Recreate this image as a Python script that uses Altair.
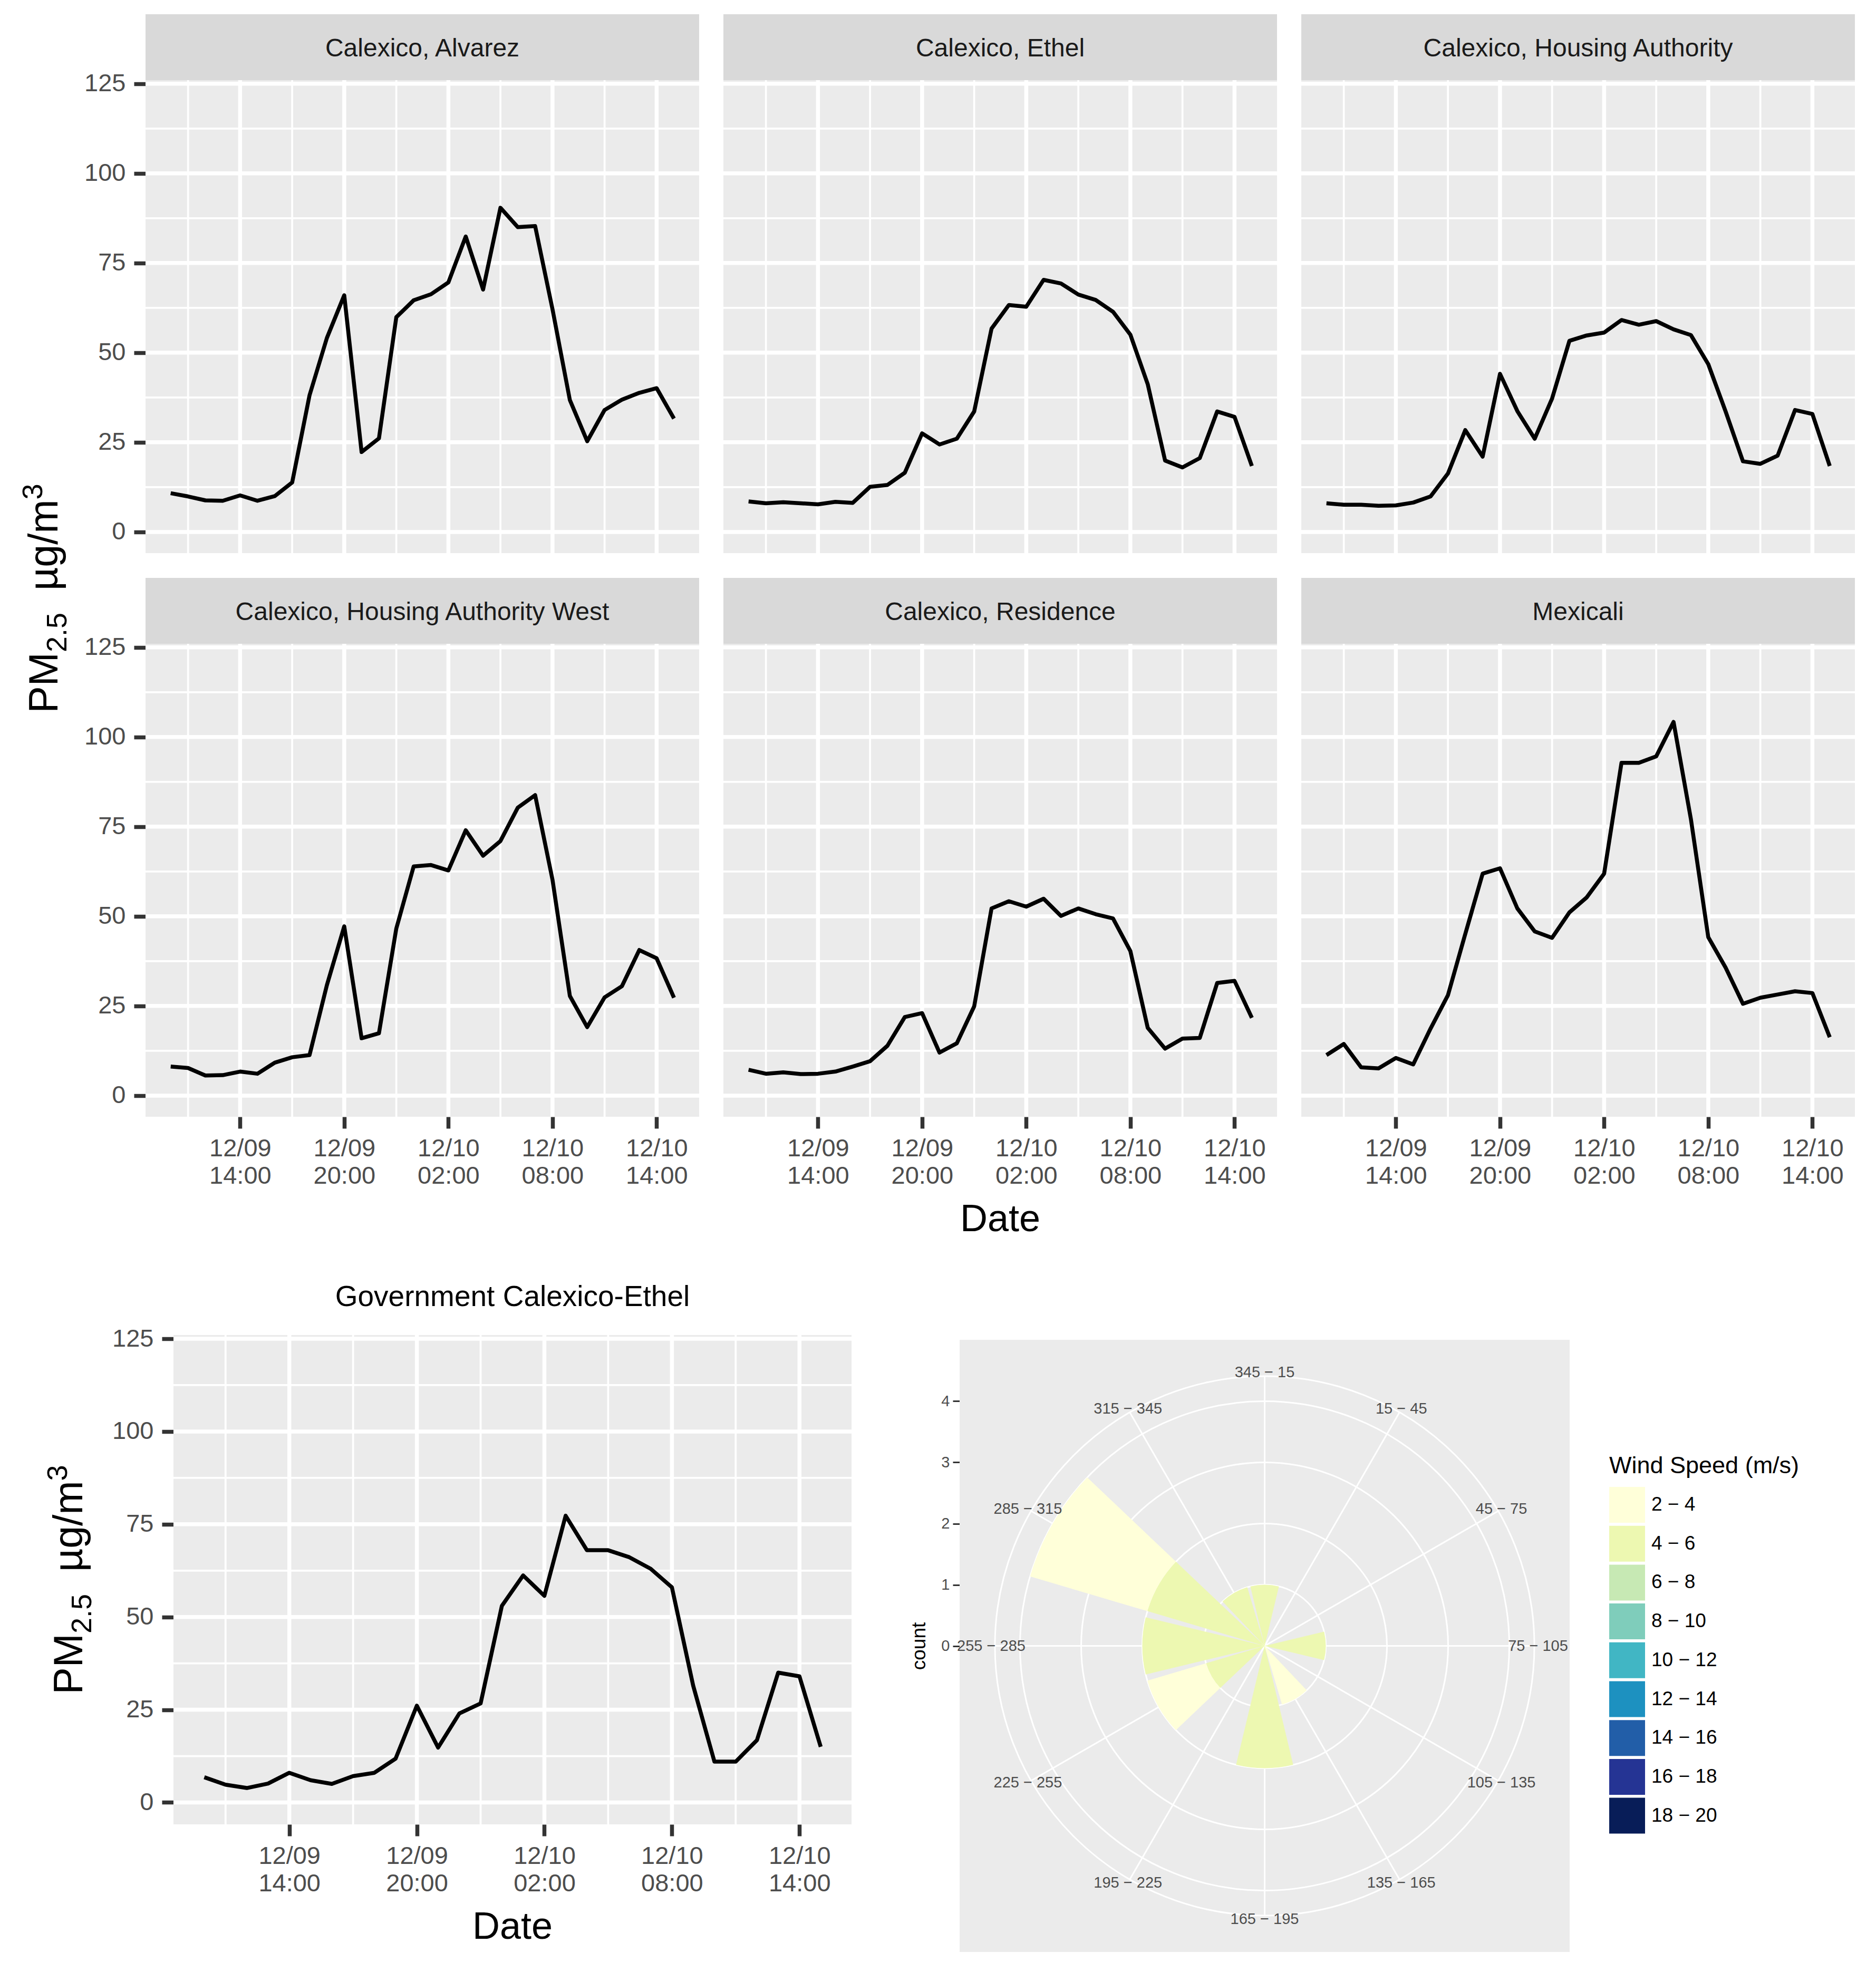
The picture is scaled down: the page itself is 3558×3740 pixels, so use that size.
import altair as alt
import pandas as pd

FONT = "Liberation Sans"

# ---------------- time-series data (hourly, 12/09 10:00 -> 12/10 15:00) ----------------
hours = pd.date_range("2014-12-09 10:00", periods=30, freq="h")

site_names = ["Calexico, Alvarez", "Calexico, Ethel", "Calexico, Housing Authority",
              "Calexico, Housing Authority West", "Calexico, Residence", "Mexicali"]

alvarez = [10.8, 9.9, 8.8, 8.7, 10.2, 8.7, 10.0, 13.8, 38.1, 54.1, 66.0, 22.3, 26.1, 59.9, 64.6,
           66.3, 69.6, 82.4, 67.6, 90.4, 85.0, 85.3, 62.1, 36.8, 25.3, 34.0, 36.9, 38.8, 40.1, 31.6]
ethel = [8.5, 8.0, 8.3, 8.0, 7.7, 8.4, 8.1, 12.6, 13.1, 16.5, 27.5, 24.4, 26.0, 33.6, 56.7,
         63.3, 62.8, 70.3, 69.3, 66.2, 64.7, 61.4, 55.0, 41.2, 19.9, 18.0, 20.6, 33.6, 32.1, 18.4]
housing = [8.0, 7.6, 7.6, 7.3, 7.4, 8.2, 9.9, 16.3, 28.4, 21.0, 44.1, 33.7, 26.0, 37.2, 53.3,
           54.8, 55.6, 59.1, 57.8, 58.8, 56.5, 54.9, 46.8, 33.6, 19.7, 19.0, 21.3, 34.0, 32.9, 18.4]
housing_west = [8.1, 7.7, 5.6, 5.7, 6.7, 6.1, 9.2, 10.7, 11.3, 30.8, 47.2, 16.0, 17.4, 46.6, 63.9,
                64.3, 62.8, 74.0, 66.9, 71.0, 80.3, 83.8, 60.2, 27.8, 19.1, 27.4, 30.5, 40.6, 38.3, 27.3]
residence = [7.2, 6.1, 6.5, 6.0, 6.1, 6.7, 8.1, 9.6, 13.9, 21.9, 23.0, 12.0, 14.6, 24.9, 52.2,
             54.2, 52.7, 54.9, 50.1, 52.2, 50.6, 49.4, 40.3, 18.9, 13.1, 15.9, 16.1, 31.4, 32.0, 21.7]
mexicali = [11.3, 14.4, 7.9, 7.6, 10.5, 8.7, 18.7, 28.0, 45.1, 61.9, 63.4, 52.2, 45.8, 44.0, 51.1,
            55.3, 61.9, 92.8, 92.8, 94.6, 104.2, 77.1, 44.2, 35.7, 25.6, 27.3, 28.2, 29.1, 28.6, 16.3]
government = [6.8, 4.8, 3.9, 5.1, 8.0, 6.0, 5.0, 7.1, 8.0, 11.8, 26.1, 14.8, 24.0, 26.7, 53.0,
              61.2, 55.7, 77.3, 68.0, 68.0, 66.1, 63.0, 58.0, 31.5, 11.0, 11.0, 16.8, 35.0, 34.0, 15.0]

site_values = [alvarez, ethel, housing, housing_west, residence, mexicali]

x_tick_times = ["2014-12-09 14:00", "2014-12-09 20:00", "2014-12-10 02:00",
                "2014-12-10 08:00", "2014-12-10 14:00"]
x_minor_times = ["2014-12-09 11:00", "2014-12-09 17:00", "2014-12-09 23:00",
                 "2014-12-10 05:00", "2014-12-10 11:00"]
x_domain_times = ["2014-12-09 08:33", "2014-12-10 16:27"]
y_ticks = [0, 25, 50, 75, 100, 125]
y_minor = [12.5, 37.5, 62.5, 87.5, 112.5]
y_domain = [-5.9, 126]

# y-axis title "PM_2.5  µg/m^3" in pieces: (text, font size, shift across the baseline)
y_title_parts = [("PM", 77, 0), ("2.5", 54, 17), ("\u00b5g/m", 77, 0), ("3", 54, -29)]
y_title_widths = [115.5, 75.0, 172.7, 30.0]
y_title_gaps = [0, 0, 42, 0]

# ---------------- wind rose data ----------------
dir_labels = ["345 \u2212 15", "15 \u2212 45", "45 \u2212 75", "75 \u2212 105", "105 \u2212 135",
              "135 \u2212 165", "165 \u2212 195", "195 \u2212 225", "225 \u2212 255",
              "255 \u2212 285", "285 \u2212 315", "315 \u2212 345"]
dir_centers = [0, 30, 60, 90, 120, 150, 180, 210, 240, 270, 300, 330]
speed_bins = ["2 \u2212 4", "4 \u2212 6", "6 \u2212 8", "8 \u2212 10", "10 \u2212 12",
              "12 \u2212 14", "14 \u2212 16", "16 \u2212 18", "18 \u2212 20"]
speed_colors = ["#FFFFD9", "#EDF8B1", "#C7E9B4", "#7FCDBB", "#41B6C4",
                "#1D91C0", "#225EA8", "#253494", "#081D58"]
wind_dir = ["345 \u2212 15", "315 \u2212 345", "285 \u2212 315", "285 \u2212 315", "255 \u2212 285",
            "225 \u2212 255", "225 \u2212 255", "165 \u2212 195", "135 \u2212 165", "75 \u2212 105"]
wind_speed = ["4 \u2212 6", "4 \u2212 6", "4 \u2212 6", "2 \u2212 4", "4 \u2212 6",
              "4 \u2212 6", "2 \u2212 4", "4 \u2212 6", "2 \u2212 4", "4 \u2212 6"]
wind_count = [1, 1, 2, 2, 2, 1, 1, 2, 1, 1]
count_ticks = [0, 1, 2, 3, 4]
ring_counts = [1, 2, 3, 4, 4.41]
label_radius = 4.47
half_bar_deg = 13.5


def dt(s):
    ts = pd.Timestamp(s)
    return alt.DateTime(year=ts.year, month=ts.month, date=ts.day,
                        hours=ts.hour, minutes=ts.minute)


AX_LAB = dict(labelFontSize=47, labelColor="#4D4D4D", tickSize=22, tickWidth=7.5,
              tickColor="#333333", domain=False, grid=False, title=None)


def label_layer(text, x, y, size, baseline="alphabetic", color="#000000"):
    df = pd.DataFrame({"txt": [text]})
    return alt.Chart(df).mark_text(fontSize=size, color=color, align="center",
                                   baseline=baseline).encode(
        x=alt.value(x), y=alt.value(y), text="txt:N")


def rotated_title(x, y):
    """Vertical axis title built from pieces so the sub/superscripts sit lower/higher."""
    total = sum(y_title_widths) + sum(y_title_gaps)
    pos = -total / 2
    out = []
    for (txt, size, shift), w, gap in zip(y_title_parts, y_title_widths, y_title_gaps):
        pos += gap
        df = pd.DataFrame({"txt": [txt]})
        kw = dict(fontSize=size, color="#000000", align="left", baseline="alphabetic",
                  angle=270, dx=pos)
        if shift:
            kw["dy"] = shift
        out.append(alt.Chart(df).mark_text(**kw).encode(
            x=alt.value(x), y=alt.value(y), text="txt:N"))
        pos += w
    return out


def ts_panel(values, pw, ph, show_x, show_y, strip=None, extras=(), ox=0, oy=0, vw=None, vh=None):
    """Panel drawn inside a view of size (vw, vh); the plotting area starts at (ox, oy)."""
    vw = pw if vw is None else vw
    vh = ph if vh is None else vh
    xs = alt.Scale(domain=[dt(s) for s in x_domain_times], range=[ox, ox + pw])
    ys = alt.Scale(domain=y_domain, nice=False, zero=False, range=[oy + ph, oy])

    bg = alt.Chart(pd.DataFrame({"a": [0]})).mark_rect(color="#EBEBEB").encode(
        x=alt.value(ox), x2=alt.value(ox + pw), y=alt.value(oy), y2=alt.value(oy + ph))

    def vrules(times_list, sw):
        return alt.Chart(pd.DataFrame({"t": pd.to_datetime(times_list)})).mark_rule(
            color="white", strokeWidth=sw).encode(
            x=alt.X("t:T", scale=xs), y=alt.value(oy), y2=alt.value(oy + ph))

    def hrules(vals, sw):
        return alt.Chart(pd.DataFrame({"pm": vals})).mark_rule(
            color="white", strokeWidth=sw).encode(
            y=alt.Y("pm:Q", scale=ys), x=alt.value(ox), x2=alt.value(ox + pw))

    if show_x:
        xax = alt.Axis(values=[dt(s) for s in x_tick_times],
                       labelExpr="[timeFormat(datum.value, '%m/%d'), timeFormat(datum.value, '%H:%M')]",
                       labelLineHeight=52, labelBaseline="top", labelPadding=15,
                       labelOverlap=False, labelFlush=False, **AX_LAB)
    else:
        xax = alt.Axis(values=[dt(s) for s in x_tick_times], labels=False, ticks=False,
                       domain=False, grid=False, title=None)
    if show_y:
        ykw = dict(values=y_ticks, labelPadding=16, **AX_LAB)
        if ox:
            ykw["offset"] = -ox
        yax = alt.Axis(**ykw)
    else:
        yax = alt.Axis(values=y_ticks, labels=False, ticks=False, domain=False, grid=False,
                       title=None)

    df = pd.DataFrame({"t": hours, "pm": values})
    # invisible first layer only carries the axis definitions
    axis_holder = alt.Chart(df).mark_line(opacity=0).encode(
        x=alt.X("t:T", scale=xs, axis=xax), y=alt.Y("pm:Q", scale=ys, axis=yax))
    line = alt.Chart(df).mark_line(color="black", strokeWidth=7.5, strokeJoin="round").encode(
        x=alt.X("t:T", scale=xs), y=alt.Y("pm:Q", scale=ys))

    layers = [axis_holder, bg, vrules(x_minor_times, 3.75), hrules(y_minor, 3.75),
              vrules(x_tick_times, 7.5), hrules(y_ticks, 7.5), line]
    if strip is not None:
        sdf = pd.DataFrame({"s": [strip]})
        layers.append(alt.Chart(sdf).mark_rect(color="#D9D9D9").encode(
            x=alt.value(ox), x2=alt.value(ox + pw), y=alt.value(oy - 125), y2=alt.value(oy)))
        layers.append(alt.Chart(sdf).mark_text(fontSize=48, color="#1A1A1A", align="center",
                                               baseline="alphabetic").encode(
            x=alt.value(ox + pw / 2), y=alt.value(oy - 45), text="s:N"))
    layers.extend(extras)
    return alt.layer(*layers).properties(width=vw, height=vh)


W, H = 1050, 897
ROW_GAP = 172
panels = []
for i, (name, vals) in enumerate(zip(site_names, site_values)):
    extras = []
    if i == 0:
        # centred on the two panel rows (strip of the first row excluded)
        extras.extend(rotated_title(-167, (2 * H + ROW_GAP) / 2))
    if i == 4:
        extras.append(label_layer("Date", W / 2, 1114, 72))
    panels.append(ts_panel(vals, W, H, show_x=(i >= 3), show_y=(i % 3 == 0),
                           strip=name, extras=extras))

# bottom-left panel, placed inside a 1050-wide grid cell with an inner offset
GW, GH = 1286, 928
GX0, GY0 = 53, 242
gov = ts_panel(government, GW, GH, True, True, strip=None, ox=GX0, oy=GY0,
               vw=W, vh=GY0 + GH,
               extras=[label_layer("Government Calexico-Ethel", GX0 + GW / 2, GY0 - 55, 55),
                       label_layer("Date", GX0 + GW / 2, GY0 + GH + 217, 72)]
               + rotated_title(GX0 - 173, GY0 + GH / 2))

# ---------------- wind rose (also inside a grid cell with an inner offset) ----------------
RW, RH = 1157, 1161
RX0, RY0 = 448, 251
CX, CY = RX0 + RW / 2, RY0 + RH / 2
PX_PER_COUNT = 116
THETA_SCALE = alt.Scale(type="linear", domain=[0, 360], range=[0, 6.283185307179586], nice=False)
R_SCALE = alt.Scale(type="linear", domain=[0, 4], range=[0, 4 * PX_PER_COUNT], zero=True, nice=False)

wind = pd.DataFrame({"dir": wind_dir, "speed": wind_speed, "count": wind_count})
wind["center"] = wind["dir"].map(dict(zip(dir_labels, dir_centers)))
wind["sorder"] = wind["speed"].map({s: i for i, s in enumerate(speed_bins)})
wind = wind.sort_values(["dir", "sorder"], ascending=[True, False]).reset_index(drop=True)
wind["r1"] = wind.groupby("dir")["count"].cumsum()
wind["r0"] = wind["r1"] - wind["count"]
wind["a0"] = wind["center"] - half_bar_deg
wind["a1"] = wind["center"] + half_bar_deg

ring_df = pd.DataFrame({"r": ring_counts, "a0": 0, "a1": 360})
spoke_df = pd.DataFrame({"ang": dir_centers, "r": ring_counts[-1]})
lab_df = pd.DataFrame({"ang": dir_centers, "lab": dir_labels, "rl": label_radius})
cnt_df = pd.DataFrame({"c": count_ticks})

rose_bg = alt.Chart(pd.DataFrame({"a": [0]})).mark_rect(color="#EBEBEB").encode(
    x=alt.value(RX0), x2=alt.value(RX0 + RW), y=alt.value(RY0), y2=alt.value(RY0 + RH))
rings = alt.Chart(ring_df).mark_arc(fill="transparent", stroke="white", strokeWidth=3).encode(
    theta=alt.Theta("a0:Q", scale=THETA_SCALE, stack=False), theta2="a1:Q",
    radius=alt.Radius("r:Q", scale=R_SCALE, stack=False), x=alt.value(CX), y=alt.value(CY))
spokes = alt.Chart(spoke_df).mark_arc(fill="transparent", stroke="white", strokeWidth=3).encode(
    theta=alt.Theta("ang:Q", scale=THETA_SCALE, stack=False), theta2="ang:Q",
    radius=alt.Radius("r:Q", scale=R_SCALE, stack=False), x=alt.value(CX), y=alt.value(CY))
# legends of a concatenated chart are placed relative to the whole grid's origin
bars = alt.Chart(wind).mark_arc(strokeWidth=0).encode(
    theta=alt.Theta("a0:Q", scale=THETA_SCALE, stack=False), theta2="a1:Q",
    radius=alt.Radius("r1:Q", scale=R_SCALE, stack=False), radius2="r0:Q",
    x=alt.value(CX), y=alt.value(CY),
    color=alt.Color("speed:N", scale=alt.Scale(domain=speed_bins, range=speed_colors),
                    legend=alt.Legend(title="Wind Speed (m/s)", orient="none",
                                      legendX=2776, legendY=2606,
                                      titleFontSize=45, titleFontWeight="normal",
                                      titleColor="#000000", titleLimit=1000, titlePadding=17,
                                      labelFontSize=37, labelColor="#000000", labelLimit=500,
                                      labelOffset=12, symbolType="square", symbolSize=4624,
                                      symbolStrokeWidth=0, symbolOpacity=1, rowPadding=5.7)))
labels = alt.Chart(lab_df).mark_text(fontSize=29, color="#4D4D4D", align="center",
                                     baseline="middle").encode(
    theta=alt.Theta("ang:Q", scale=THETA_SCALE, stack=False),
    radius=alt.Radius("rl:Q", scale=R_SCALE, stack=False), text="lab:N",
    x=alt.value(CX), y=alt.value(CY))
half_span = (RH / 2) / PX_PER_COUNT
yax = alt.Chart(cnt_df).mark_point(opacity=0).encode(
    y=alt.Y("c:Q", scale=alt.Scale(domain=[-half_span, half_span], range=[RY0 + RH, RY0],
                                   nice=False, zero=False),
            axis=alt.Axis(values=count_ticks, title="count", titleFontSize=37, offset=-RX0,
                          titleFontWeight="normal", titleColor="#000000", titlePadding=22,
                          labelFontSize=29, labelColor="#4D4D4D", labelPadding=6,
                          tickSize=13, tickWidth=3, tickColor="#333333", domain=False, grid=False)))

rose = alt.layer(rose_bg, rings, spokes, bars, labels, yax).properties(width=W, height=RY0 + RH)

cells = panels + [gov, rose]

chart = alt.concat(*cells, columns=3, spacing={"row": ROW_GAP, "column": 46},
                   align="each", bounds="flush").properties(
    padding={"left": 29, "top": 19, "right": 5, "bottom": 5}
).configure(font=FONT).configure_view(strokeWidth=0)

chart.save("out.html", embed_options={"renderer": "svg", "actions": False})
